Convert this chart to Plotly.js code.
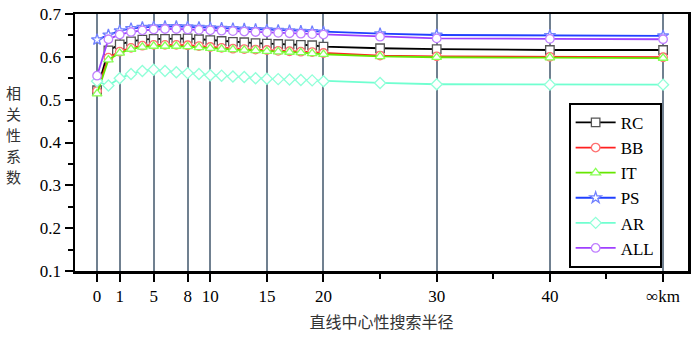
<!DOCTYPE html>
<html>
<head>
<meta charset="utf-8">
<script src="https://cdn.plot.ly/plotly-3.0.1.min.js"></script>
<style>html,body{margin:0;padding:0;background:#fff;}#chart{width:700px;height:339px;}</style>
</head>
<body>
<div id="chart"></div>
<script>
// x positions on the axis (label "1" sits at position 2, "∞km" at 50)
const xPos = [0,1,2,3,4,5,6,7,8,9,10,11,12,13,14,15,16,17,18,19,20,25,30,40,50];
const tickPos = [0,2,5,8,10,15,20,30,40,50];
const tickLabels = ['0','1','5','8','10','15','20','30','40','\u221ekm'];
const minorPos = [25,35,45];

const RC  = [0.522,0.615,0.629,0.636,0.640,0.642,0.642,0.642,0.643,0.641,0.639,0.637,0.635,0.634,0.632,0.631,0.630,0.629,0.628,0.627,0.624,0.620,0.618,0.616,0.616];
const BB  = [0.520,0.598,0.612,0.621,0.626,0.628,0.628,0.628,0.627,0.625,0.623,0.621,0.619,0.618,0.617,0.616,0.614,0.613,0.612,0.611,0.609,0.603,0.601,0.600,0.599];
const IT  = [0.514,0.593,0.609,0.618,0.623,0.625,0.625,0.625,0.624,0.622,0.620,0.618,0.617,0.616,0.615,0.613,0.612,0.611,0.610,0.608,0.606,0.601,0.599,0.598,0.597];
const PS  = [0.640,0.651,0.661,0.666,0.669,0.670,0.671,0.671,0.670,0.669,0.668,0.667,0.666,0.665,0.664,0.663,0.662,0.661,0.660,0.659,0.658,0.654,0.651,0.650,0.649];
const AR  = [0.543,0.533,0.550,0.560,0.567,0.570,0.567,0.564,0.562,0.560,0.557,0.556,0.554,0.553,0.550,0.549,0.548,0.547,0.546,0.545,0.543,0.539,0.536,0.535,0.535];
const ALL = [0.556,0.641,0.652,0.658,0.662,0.664,0.665,0.665,0.664,0.663,0.662,0.661,0.660,0.659,0.658,0.657,0.656,0.655,0.654,0.653,0.652,0.647,0.643,0.642,0.641];
const yTitleChars = ['相','关','性','系','数'];

const seriesNames = ['RC','BB','IT','PS','AR','ALL'];
const seriesData = [RC,BB,IT,PS,AR,ALL];
const lineColors = ['#000000','#ff2020','#66e600','#2040ff','#70ffd0','#a040ff'];
const markerEdge = ['#555555','#ff7070','#88ff55','#7080ff','#90ffd8','#c080ff'];
const symbols = ['square','circle','triangle-up','star','diamond','circle'];

const traces = seriesNames.map((n,i)=>({
  type:'scatter', mode:'lines+markers', name:n, x:xPos, y:seriesData[i],
  line:{color:lineColors[i], width:1.8},
  marker:{symbol:symbols[i], size:8.5, color:'rgba(255,255,255,1)', line:{color:markerEdge[i], width:1.3}}
}));

const serif = 'Liberation Serif, Times New Roman, serif';
const annotations = yTitleChars.map((c,i)=>({text:c, xref:'paper', yref:'paper',
    x:-0.1, y:0.53 + (2 - i) * 21/257, xanchor:'center', yanchor:'middle', showarrow:false,
    font:{family:'Noto Sans CJK SC', size:15, color:'#333'}}));

const layout = {
  width:700, height:339,
  margin:{l:75, r:12, t:14, b:68},
  paper_bgcolor:'#fff', plot_bgcolor:'#fff',
  showlegend:true,
  legend:{x:0.957, xanchor:'right', y:0.012, yanchor:'bottom', bgcolor:'#fff',
    bordercolor:'#000', borderwidth:2, font:{family:serif, size:17, color:'#000'},
    tracegroupgap:0, itemwidth:40},
  xaxis:{range:[-1.95,52.2], tickmode:'array', tickvals:tickPos, ticktext:tickLabels,
    showgrid:true, gridcolor:'#708090', gridwidth:2, zeroline:false,
    showline:true, linecolor:'#000', linewidth:2.5, mirror:true,
    ticks:'outside', ticklen:8, tickwidth:2, tickcolor:'#000',
    tickfont:{family:serif, size:17, color:'#000'},
    minor:{tickmode:'array', tickvals:minorPos, ticks:'outside', ticklen:5, tickwidth:2, tickcolor:'#000', showgrid:false},
    title:{text:'直线中心性搜索半径', font:{family:'Noto Sans CJK SC', size:16, color:'#333'}, standoff:12}},
  yaxis:{range:[0.1,0.7], tickmode:'array', tickvals:[0.1,0.2,0.3,0.4,0.5,0.6,0.7],
    ticktext:['0.1','0.2','0.3','0.4','0.5','0.6','0.7'],
    showgrid:false, zeroline:false,
    showline:true, linecolor:'#000', linewidth:2.5, mirror:true,
    ticks:'outside', ticklen:8, tickwidth:2, tickcolor:'#000',
    tickfont:{family:serif, size:17, color:'#000'},
    minor:{tickmode:'array', tickvals:[0.15,0.25,0.35,0.45,0.55,0.65], ticks:'outside', ticklen:5, tickwidth:2, tickcolor:'#000', showgrid:false}},
  annotations:annotations
};
Plotly.newPlot('chart', traces, layout, {displayModeBar:false, staticPlot:true});
</script>
</body>
</html>
